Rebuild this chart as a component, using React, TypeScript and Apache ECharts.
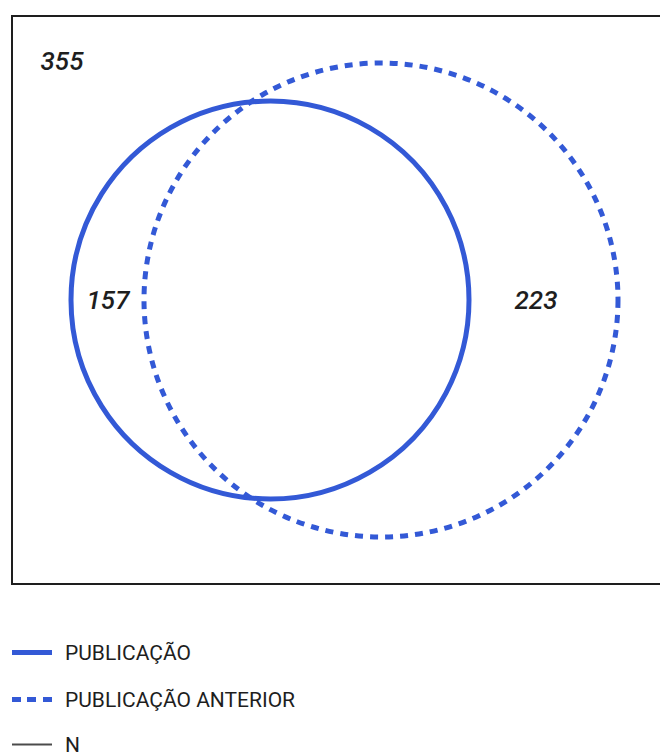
import React, { useEffect, useRef } from "react";
import * as echarts from "echarts";

// Venn circles: [centerX, centerY, radius] in chart units (x: 0..660, y: 0..568 top-down)
const seriesNames = ["PUBLICAÇÃO", "PUBLICAÇÃO ANTERIOR", "N"];
const circlePublicacao = [[258, 284, 199]];
const circleAnterior = [[369, 284, 237]];
// N counts with their label positions
const countValues = [355, 157, 223];
const countPositions = [
  [50, 45],
  [96, 284],
  [524, 284],
];

const BLUE = "#3359d6";
const DARK = "#1e1e1e";

function circleRenderer(dashed: boolean) {
  return (params: any, api: any) => {
    const c = api.coord([api.value(0), api.value(1)]);
    const r = api.size([api.value(2), 0])[0];
    return {
      type: "circle",
      shape: { cx: c[0], cy: c[1], r },
      style: {
        fill: "none",
        stroke: BLUE,
        lineWidth: 5,
        lineDash: dashed ? [8, 7] : null,
      },
    };
  };
}

export default function App() {
  const ref = useRef<HTMLDivElement>(null);
  useEffect(() => {
    if (!ref.current) return;
    const chart = echarts.init(ref.current, undefined, { renderer: "svg" });
    const legendText = {
      fontSize: 21,
      color: DARK,
      fontFamily: "Roboto",
      padding: [0, 0, 0, 8],
    };
    const legendBase = {
      left: 12,
      orient: "vertical",
      itemWidth: 40,
      padding: 0,
      selectedMode: false,
      textStyle: legendText,
    };
    chart.setOption({
      animation: false,
      grid: {
        left: 12,
        top: 16,
        width: 660,
        height: 568,
        show: true,
        borderColor: DARK,
        borderWidth: 2,
        backgroundColor: "transparent",
      },
      xAxis: { type: "value", min: 0, max: 660, show: false },
      yAxis: { type: "value", min: 0, max: 568, inverse: true, show: false },
      legend: [
        {
          ...legendBase,
          top: 642,
          itemHeight: 5,
          data: [{ name: seriesNames[0], icon: "rect", itemStyle: { color: BLUE } }],
        },
        {
          ...legendBase,
          top: 689,
          itemHeight: 5,
          data: [
            {
              name: seriesNames[1],
              icon: "path://M0,0L9,0L9,5L0,5Z M15,0L24,0L24,5L15,5Z M31,0L40,0L40,5L31,5Z",
              itemStyle: { color: BLUE },
            },
          ],
        },
        {
          ...legendBase,
          top: 734,
          itemHeight: 2,
          data: [{ name: seriesNames[2], icon: "rect", itemStyle: { color: DARK } }],
        },
      ],
      series: [
        {
          name: seriesNames[0],
          type: "custom",
          renderItem: circleRenderer(false),
          data: circlePublicacao,
          itemStyle: { color: BLUE },
          silent: true,
        },
        {
          name: seriesNames[1],
          type: "custom",
          renderItem: circleRenderer(true),
          data: circleAnterior,
          itemStyle: { color: BLUE },
          silent: true,
        },
        {
          name: seriesNames[2],
          type: "scatter",
          symbolSize: 0,
          itemStyle: { color: DARK },
          data: countPositions.map((p, i) => [p[0], p[1], countValues[i]]),
          label: {
            show: true,
            position: "inside",
            formatter: (p: any) => String(p.value[2]),
            fontSize: 26,
            fontStyle: "italic",
            fontWeight: 500,
            fontFamily: "Roboto",
            color: DARK,
            textBorderWidth: 0,
            opacity: 1,
          },
          silent: true,
        },
      ],
    });
    return () => chart.dispose();
  }, []);
  return (
    <div
      style={{
        position: "absolute",
        left: 0,
        top: 0,
        width: 660,
        height: 756,
        overflow: "hidden",
      }}
    >
      <div ref={ref} style={{ width: 700, height: 756 }} />
    </div>
  );
}
